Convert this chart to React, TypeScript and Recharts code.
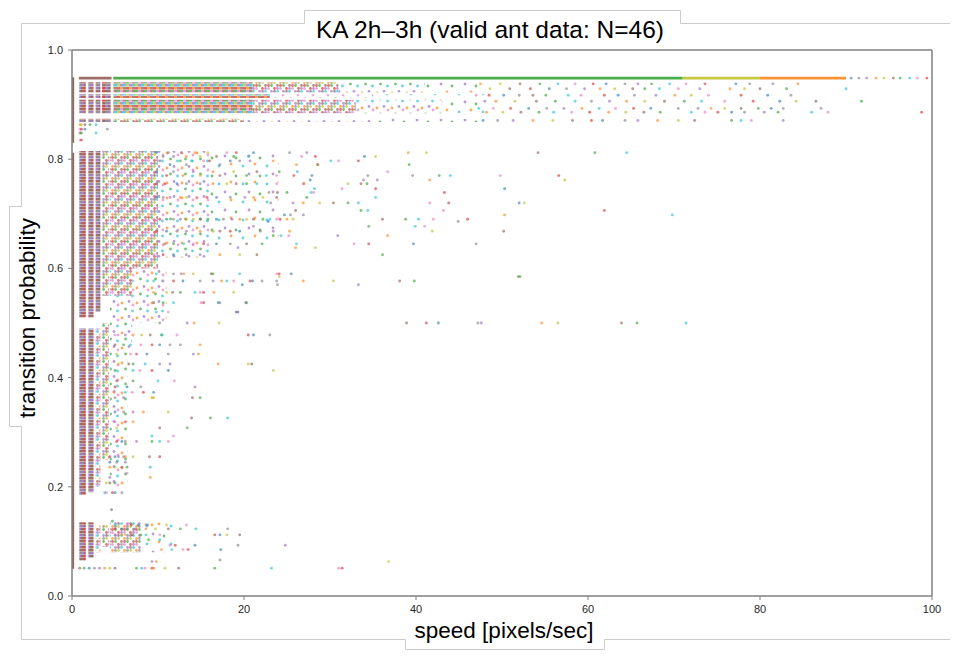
import { ReferenceArea, ReferenceLine, Scatter, ScatterChart, XAxis, YAxis } from "recharts"

const tab10 = ["#1f77b4", "#ff7f0e", "#2ca02c", "#d62728", "#9467bd", "#8c564b", "#e377c2", "#7f7f7f", "#bcbd22", "#17becf"]

const xTicks = [0, 20, 40, 60, 80, 100]
const yTicks = [0, 0.2, 0.4, 0.6, 0.8, 1]

// markers at speed 0 stack into one solid stripe: [y1, y2]
const zeroSpeed: [number, number][] = [
  [0.05, 0.812],
  [0.83, 0.95],
]

// speed bins where markers overlap: [x1, x2, y1, y2, density 0..3]
const crowdAreas: [number, number, number, number, number][] = [
  [0.85, 1.6, 0.51, 0.815, 3],
  [0.85, 1.6, 0.185, 0.49, 3],
  [0.85, 1.6, 0.065, 0.135, 3],
  [1.9, 2.5, 0.51, 0.815, 3],
  [1.9, 2.5, 0.19, 0.49, 3],
  [1.9, 2.5, 0.07, 0.135, 3],
  [2.75, 3.3, 0.52, 0.815, 3],
  [2.75, 3.3, 0.2, 0.49, 2],
  [2.75, 3.3, 0.08, 0.13, 2],
  [3.5, 4.3, 0.55, 0.815, 2],
  [3.5, 4.3, 0.25, 0.5, 2],
  [3.5, 4.3, 0.09, 0.13, 2],
  [4.4, 7, 0.55, 0.815, 2],
  [7, 10, 0.6, 0.815, 2],
  [10, 16, 0.62, 0.815, 1],
  [16, 24, 0.65, 0.815, 0],
  [4.4, 7, 0.45, 0.55, 1],
  [7, 11, 0.5, 0.6, 1],
  [4.4, 6.5, 0.2, 0.45, 1],
  [4.4, 8, 0.08, 0.135, 2],
  [8, 12, 0.08, 0.135, 0],
]

// high-probability rows (y1, y2) and the speed spans they fill [x1, x2, density 0..3]
const topBands: [number, number][] = [
  [0.922, 0.941],
  [0.912, 0.919],
  [0.884, 0.909],
  [0.868, 0.874],
]
const topSpans: [number, number, number][][] = [
  [[0.85, 1.6, 3], [1.9, 2.5, 3], [2.75, 3.3, 3], [3.5, 4.5, 3], [4.8, 21, 3], [21, 31, 2], [31, 41, 1], [41, 48, 0]],
  [[0.85, 1.6, 3], [1.9, 2.5, 3], [2.75, 3.3, 3], [3.5, 4.5, 3], [4.8, 23, 3], [23, 35, 1], [35, 48, 0]],
  [[0.85, 1.6, 3], [1.9, 2.5, 3], [2.75, 3.3, 3], [3.5, 4.5, 3], [4.8, 21, 3], [21, 33, 2], [33, 43, 1], [43, 48, 0]],
  [[0.85, 1.6, 3], [1.9, 2.5, 3], [2.75, 3.3, 3], [3.5, 4.5, 3], [4.8, 20, 2], [20, 35, 1], [35, 48, 0]],
]

// the saturated p=0.95 row: [x1, x2, ant]
const ceilingRow: [number, number, number][] = [
  [0.8, 4.6, 5],
  [4.8, 71, 2],
  [71, 80, 8],
  [80, 90, 1],
]
const ceilingY: [number, number] = [0.946, 0.951]

// individual readable markers: [transition probability, speeds]
const scatterRows: [number, number[]][] = [
  [0.9485, [90.6, 91.5, 92.4, 93.5, 94.4, 95.5, 96.3, 97.4, 98.3, 99.4]],
  [0.938, [47.5, 49.8, 52.1, 54.4, 56.5, 58.5, 60.6, 62.1, 64.3, 65.8, 67.4, 69.5, 71.4, 73.6, 77.2, 78.8, 81.5, 84.4]],
  [0.929, [48.6, 50.9, 53.3, 55.5, 57.5, 59.6, 61.4, 63.1, 65.2, 66.6, 68.3, 70.5, 73, 76.5, 78.2, 80, 83.1, 90]],
  [0.917, [47, 48.5, 50.2, 52, 53.6, 55.1, 57.7, 59.2, 61.9, 63.5, 65.4, 67.9, 70.1, 72, 74, 77.8, 80.9, 83.6]],
  [0.906, [48, 49.3, 51.5, 54, 56.2, 58.5, 60.4, 62.5, 64.5, 66.6, 68.9, 71.2, 73.2, 75.9, 79.2, 82.3, 84.2, 86.5, 91.8]],
  [0.893, [47.3, 49, 51, 53.1, 55.2, 57.2, 59.3, 61.3, 63.2, 65.3, 67.3, 70.5, 72.8, 74.3, 75.9, 77.8, 79.8, 81.3, 82.7, 87.1]],
  [0.886, [48.2, 50.1, 52.2, 54.3, 56, 58.1, 60.2, 62.4, 64.4, 66.5, 68.4, 72, 73.6, 75.1, 76.7, 78.2, 80.5, 82.1, 86, 87.9, 98.8]],
  [0.871, [47.8, 49.5, 51.3, 53.6, 55.9, 58.2, 60.4, 61.7, 64.3, 65.8, 68.1, 70.5, 72.4, 76.7, 77.8, 79, 82.7]],
  [0.863, [0.93, 1.1, 1.5, 2.1, 2.8]],
  [0.855, [0.93, 1.1, 1.5, 4.1]],
  [0.848, [0.93, 1.1, 2.8]],
  [0.835, [0.93, 1.1]],
  [0.812, [9.8, 11.2, 12.7, 14.3, 15.8, 18, 19.1, 21.1, 25.3, 27.3, 39.1, 41.2, 54.2, 60.8, 64.5]],
  [0.805, [10.6, 11.8, 13.3, 14.9, 16.8, 18.8, 20.5, 26.7, 28.3, 34, 35.3]],
  [0.797, [10.2, 12.6, 13.9, 15.3, 16, 18.4, 19.5, 20.7, 23.4, 30.1, 31, 33.3]],
  [0.79, [11.4, 13.3, 17.2, 26.1, 28.5, 28.6, 39.2]],
  [0.777, [9.8, 11.8, 14.1, 16.4, 18.8, 21.5, 24.1, 26.2, 36.7]],
  [0.77, [11, 12.9, 14.9, 17.2, 20.3, 22.6, 23.8, 25.8, 27.9, 34.4, 39.6, 42.7, 44, 49.8, 56.6]],
  [0.762, [27.7, 33.9, 35.5, 41.6, 57.3]],
  [0.755, [9.8, 10.8, 12.2, 13.3, 14.9, 16.4, 18, 19.1, 20.3, 21.5, 23.8, 26.9, 27, 32.1, 33.6, 34.3]],
  [0.746, [28.2, 31.4, 35.3, 50.3]],
  [0.739, [22.9, 23.9, 25, 27.8, 28.1, 43.3]],
  [0.73, [9.8, 10.6, 11.4, 12.6, 13.3, 14.5, 15.7, 16.8, 18.4, 20.1, 21.1, 22.2, 23.8, 27.3, 35.3]],
  [0.72, [23.1, 25.7, 26.9, 28.8, 30.4, 32.1, 33.3, 41.6, 43.8, 52, 52.6]],
  [0.706, [26, 33.6, 34.4, 43.2, 61.9]],
  [0.698, [24.7, 25.4, 26.9, 50.3, 69.8]],
  [0.69, [9.5, 10.2, 11, 11.8, 12.6, 13.3, 14.1, 14.9, 15.8, 16.8, 17.6, 18.6, 19.5, 20.3, 21.1, 22.2, 23, 23.8, 24.2, 25, 25.7, 36.1, 38.8, 40.3, 42, 46]],
  [0.686, [22.8, 44.9]],
  [0.677, [21.1, 34.5, 39.9, 41]],
  [0.668, [9.8, 11, 12.2, 13.3, 14.9, 16.4, 17.2, 18.4, 19.5, 21.9, 23.4, 25.3, 41.9, 50.2]],
  [0.66, [23.4, 24.3, 25.2, 30.9, 36.7]],
  [0.645, [9.8, 10.8, 11.8, 13, 14.1, 15.3, 16.8, 18.4, 20.3, 22.1, 26.1, 32.8, 34.5, 39.7, 47]],
  [0.638, [19.3, 26, 28.3]],
  [0.625, [9.5, 10.6, 11.8, 13.3, 14.9, 17.2, 19.5, 21.5, 36.1]],
  [0.59, [9.8, 11.8, 12.7, 13, 14.1, 16.2, 16.4, 19.5, 23.8, 24.1, 25.5]],
  [0.585, [24.1, 51.9, 52.1]],
  [0.577, [9.5, 10.6, 11.8, 12.9, 14.9, 16.4, 17.4, 18, 18.8, 20.7, 21, 22.1, 23.8, 26.9, 30.4, 38.1, 39.8]],
  [0.57, [19.8, 23.9, 33.3]],
  [0.556, [9.5, 11, 11.7, 12.6, 14.3, 14.9, 15.3, 16.5, 18.8]],
  [0.537, [9.5, 10.6, 11.8, 15, 15.3, 17, 17.2, 20.2, 20.3]],
  [0.52, [9.8, 11.2, 19.1, 19.3]],
  [0.5, [10.2, 13.4, 14.2, 17.1, 38.9, 41.2, 42.6, 47.2, 47.6, 54.6, 56.5, 63.9, 65.7, 71.4]],
  [0.478, [5, 6.2, 7.1, 8.1, 9.1, 10.4, 10.5, 12.2, 20.5, 21.1, 23]],
  [0.46, [5, 6, 6.8, 8, 9.3, 10.2, 11.4, 12.6, 14.9]],
  [0.443, [5.2, 6.8, 7.5, 8.7, 11.2, 14.1, 14.7]],
  [0.425, [5.4, 6.6, 7.1, 8.5, 10.2, 11.4, 17, 20.5, 20.9]],
  [0.413, [5, 7.1, 7.9, 9.3, 11.2, 23.4]],
  [0.394, [5.2, 7.1, 10, 11.9]],
  [0.383, [5, 6.4, 8, 14.3]],
  [0.373, [4.9, 6.2, 7, 8.3, 9.5]],
  [0.363, [5, 6, 9.3, 9.5, 14, 14.9]],
  [0.337, [5, 6, 7.1, 8.3, 11.2]],
  [0.326, [13.9, 16.1, 18.1]],
  [0.319, [5, 6.2, 7.1]],
  [0.308, [5.2, 10.2, 13.4]],
  [0.293, [9.3, 11.8]],
  [0.283, [5.2, 5.8, 6.2, 7.5, 9.3, 10.2, 11.2]],
  [0.255, [4.4, 5, 5.4, 6, 6.2, 7.1, 9, 10.2]],
  [0.245, [4.4, 5.2, 6.2]],
  [0.236, [4.4, 5, 5.8, 6.4, 9.1]],
  [0.225, [6.4]],
  [0.217, [4.4, 9.1]],
  [0.207, [4, 4.4, 5]],
  [0.189, [3.8, 4, 4.7, 5, 5.8]],
  [0.158, [4.6]],
  [0.137, [4.7]],
  [0.13, [5, 6.4, 6.9, 7.7, 8.6, 8.8, 9.3, 11, 13.3]],
  [0.123, [5, 5.8, 6.4, 7.3, 8.6, 9.7, 11.2, 12.6, 14.4, 18.1]],
  [0.112, [5, 5.8, 6.2, 7, 8, 8.6, 10.2, 16.6, 17.2, 18, 19.5]],
  [0.103, [8.9, 10.2]],
  [0.093, [11.4, 12, 14.3, 19.3, 24.8]],
  [0.085, [10.4, 11.6, 12.9, 13.5, 17.3]],
  [0.066, [17.2]],
  [0.063, [9.3, 9.8, 36.8]],
  [0.051, [0.9, 1.4, 2, 2.6, 3.2, 3.8, 4.4, 5, 7.5, 8.1, 8.5, 9.3, 9.5, 10.8, 12.4, 16.6, 23.2, 31, 31.4]],
]

const points = scatterRows.flatMap(([y, xs]) => xs.map((x) => ({ x, y })))

const font = "'Liberation Sans', Arial, Helvetica, sans-serif"
const axisStroke = "#808080"
const tickStyle = { fontSize: 11, fill: "#262626", fontFamily: font }

// marker colour cycles through the ant palette
function Dot(props: any) {
  const { cx, cy, index } = props
  if (cx == null || cy == null) return null
  const k = index ?? 0
  const c = tab10[(k * 7 + Math.floor(k / 10)) % 10]
  return <circle cx={cx} cy={cy} r={1.45} fill={c} fillOpacity={0.6} />
}

// textures for stacked markers, from sparse (0) to solid (3)
const crowdFill = (density: number, top: boolean) =>
  density >= 3 ? (top ? "url(#crowdTop)" : "url(#crowdCol)") : density === 2 ? "url(#crowdMid)" : density === 1 ? "url(#crowdSparse)" : "url(#crowdThin)"

function CrowdPatterns() {
  const grid = (ids: number[], op: number) =>
    ids.map((c, i) => (
      <rect key={i} x={(i % 3) * 3} y={Math.floor(i / 3) * 3} width={3} height={2.6} fill={tab10[c]} fillOpacity={op} />
    ))
  const dots = (spots: [number, number, number][]) =>
    spots.map(([x, y, c], i) => <circle key={i} cx={x} cy={y} r={1.4} fill={tab10[c]} fillOpacity={0.65} />)
  return (
    <defs>
      <pattern id="crowdCol" width={9} height={9} patternUnits="userSpaceOnUse">
        {grid([5, 3, 5, 4, 5, 7, 5, 3, 4], 0.85)}
      </pattern>
      <pattern id="crowdTop" width={9} height={9} patternUnits="userSpaceOnUse">
        {grid([2, 6, 5, 8, 4, 9, 3, 1, 5], 0.72)}
      </pattern>
      <pattern id="crowdMid" width={12} height={12} patternUnits="userSpaceOnUse">
        {dots([[1.5, 1.5, 5], [7.5, 1.5, 2], [4.5, 4.5, 6], [10.5, 4.5, 3], [1.5, 7.5, 9], [7.5, 7.5, 4], [4.5, 10.5, 1], [10.5, 10.5, 8], [4.5, 1.5, 3], [1.5, 4.5, 4], [10.5, 7.5, 5], [7.5, 10.5, 7]])}
      </pattern>
      <pattern id="crowdSparse" width={15} height={15} patternUnits="userSpaceOnUse">
        {dots([[2, 3, 1], [9, 1.5, 4], [5.5, 9, 2], [12.5, 11, 9], [13, 5, 6]])}
      </pattern>
      <pattern id="crowdThin" width={24} height={18} patternUnits="userSpaceOnUse">
        {dots([[3, 4, 9], [15, 2, 1], [9, 12, 4], [20, 14, 2]])}
      </pattern>
    </defs>
  )
}

export default function App() {
  return (
    <div style={{ position: "absolute", left: 0, top: 0, width: 958, height: 659, background: "#fff" }}>
      <ScatterChart width={958} height={659} margin={{ top: 50, right: 26, bottom: 33, left: 32 }}>
        <CrowdPatterns />
        <XAxis
          type="number"
          dataKey="x"
          domain={[0, 100]}
          ticks={xTicks}
          height={30}
          allowDataOverflow
          axisLine={{ stroke: axisStroke, strokeWidth: 1.5 }}
          tickLine={{ stroke: axisStroke }}
          tickSize={4}
          tickMargin={5}
          tick={tickStyle}
        />
        <YAxis
          type="number"
          dataKey="y"
          domain={[0, 1]}
          ticks={yTicks}
          width={40}
          allowDataOverflow
          tickFormatter={(v: number) => v.toFixed(1)}
          axisLine={{ stroke: axisStroke, strokeWidth: 1.5 }}
          tickLine={{ stroke: axisStroke }}
          tickSize={4}
          tickMargin={5}
          tick={tickStyle}
        />
        {zeroSpeed.map(([y1, y2], i) => (
          <ReferenceArea key={`z${i}`} x1={0} x2={0.25} y1={y1} y2={y2} fill={tab10[5]} fillOpacity={0.9} stroke="none" />
        ))}
        {crowdAreas.map(([x1, x2, y1, y2, d], i) => (
          <ReferenceArea key={`c${i}`} x1={x1} x2={x2} y1={y1} y2={y2} fill={crowdFill(d, false)} fillOpacity={1} stroke="none" />
        ))}
        {topBands.flatMap(([y1, y2], b) =>
          topSpans[b].map(([x1, x2, d], i) => (
            <ReferenceArea key={`t${b}-${i}`} x1={x1} x2={x2} y1={y1} y2={y2} fill={crowdFill(d, x1 > 4.6)} fillOpacity={1} stroke="none" />
          )),
        )}
        {ceilingRow.map(([x1, x2, ant], i) => (
          <ReferenceArea key={`r${i}`} x1={x1} x2={x2} y1={ceilingY[0]} y2={ceilingY[1]} fill={tab10[ant]} fillOpacity={0.85} stroke="none" />
        ))}
        <Scatter data={points} isAnimationActive={false} shape={<Dot />} />
        <ReferenceLine x={100} stroke={axisStroke} strokeWidth={1.5} />
        <ReferenceLine y={1} stroke={axisStroke} strokeWidth={1.5} />
      </ScatterChart>
      <svg width={958} height={659} style={{ position: "absolute", left: 0, top: 0, pointerEvents: "none" }}>
        <path
          d="M950 23.5H680.5V10.5H304.5V23.5H21.5V206.5H9.5V426.5H21.5V639.5H405.5V649.5H604.5V639.5H950"
          fill="none"
          stroke="#cccccc"
          strokeWidth={1}
        />
        <text x={490} y={37.5} textAnchor="middle" fontSize={24.5} fontFamily={font} fill="#000">
          KA 2h–3h (valid ant data: N=46)
        </text>
        <text x={504} y={638} textAnchor="middle" fontSize={22.5} fontFamily={font} fill="#000">
          speed [pixels/sec]
        </text>
        <text x={34.5} y={318} textAnchor="middle" fontSize={22.5} fontFamily={font} fill="#000" transform="rotate(-90 34.5 318)">
          transition probability
        </text>
      </svg>
    </div>
  )
}
